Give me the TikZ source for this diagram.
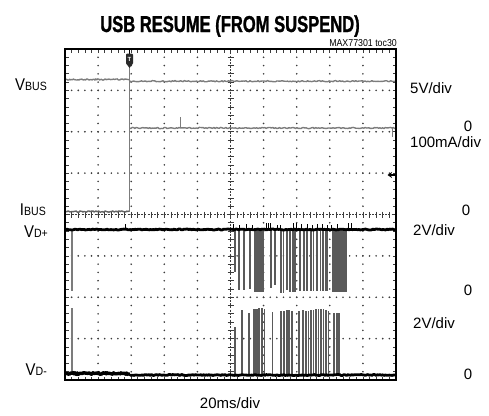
\documentclass[tikz,border=0pt]{standalone}
\usepackage{fontspec}
\setmainfont{Liberation Sans}
\newfontfamily\lblfont[FakeStretch=0.88]{Liberation Sans}
\newfontfamily\ttlfont[FakeStretch=0.72,BoldFeatures={FakeBold=1.2}]{Liberation Sans}
\usetikzlibrary{arrows.meta}
\definecolor{trgray}{HTML}{7C7C7C}
\definecolor{pulsegray}{HTML}{5A5A5A}
\definecolor{dotgray}{HTML}{3C3C3C}
\newcommand\mainsz{\fontsize{17}{18}\selectfont}
\newcommand\subsz{\fontsize{12}{13}\selectfont}
\newcommand\rsz{\fontsize{15}{16}\selectfont}
\begin{document}
\begin{tikzpicture}[x=1pt,y=-1pt,
  griddot/.style={fill=dotgray},
  tickln/.style={dotgray,line width=0.7pt},
  trace/.style={trgray,line width=1.4pt,line join=round},
  blk/.style={black,line width=2.8pt,line join=round},
  pulse/.style={pulsegray},
  lbl/.style={inner sep=0pt,font=\lblfont},
  rlbl/.style={inner sep=0pt,font=\rsz}]
\useasboundingbox (0,0) rectangle (489,415);
\pgfmathsetseed{7}
% grid dots on rows
\foreach \i in {1,2,3,5,6,7}{
  \foreach \k in {1,...,49}{
    \fill[griddot] ({65+6.62*\k},{49+41.375*\i}) circle (0.9pt);
  }
}
% grid dots on columns
\foreach \j in {1,2,3,4,6,7,8,9}{
  \foreach \m in {1,...,39}{
    \fill[griddot] ({65+33.1*\j},{49+8.275*\m}) circle (0.9pt);
  }
}
% centre axes with ticks
\draw[tickln,dash pattern=on 2pt off 1.3pt] (65,214.5) -- (396,214.5);
\draw[tickln,dash pattern=on 2pt off 1.3pt] (230.5,49) -- (230.5,380);
\foreach \k in {1,...,49}{
  \draw[tickln] ({65+6.62*\k},211.5) -- ++(0,6);
  \draw[tickln] ({65+6.62*\k},49) -- ++(0,3.5);
  \draw[tickln] ({65+6.62*\k},380) -- ++(0,-3.5);
}
\foreach \m in {1,...,39}{
  \draw[tickln] (227.5,{49+8.275*\m}) -- ++(6,0);
  \draw[tickln] (65,{49+8.275*\m}) -- ++(3.5,0);
  \draw[tickln] (396,{49+8.275*\m}) -- ++(-3.5,0);
}
% VBUS trace
\draw[trace] plot[domain=65:129.5,samples=70] (\x,{79.5+0.6*rand});
\draw[trace] plot[domain=129.5:396,samples=200] (\x,{81.2+0.6*rand});
% IBUS trace
\draw[trace,trgray!80!black] plot[domain=65:129.5,samples=70] (\x,{211.5+0.7*rand});
\draw[trace] (129.5,62) -- (129.5,211.5);
\draw[trace] plot[domain=129.5:396,samples=200] (\x,{128+0.6*rand});
\draw[trace,line width=1pt] (180,128) -- (180,117);
\draw[trace,line width=1pt] (392,128) -- (392,137);
% VD+ and VD- markers at left
\draw[trace,line width=1.3pt] (72,229.5) -- (72,291);
\draw[trace,line width=1.3pt] (72,308) -- (72,374);
% VD+ pulses (downward)
\foreach \px/\pw/\pb in {235/1.5/272,238.5/2/290,244/2/290,250/2.2/289,255/2.2/292,257.5/2.2/292,260/2.4/292,262.5/2.4/292,270.5/2/288,275/1.8/285,281/2.2/293,283.5/1.8/293,286.5/2/290,290/2/292,292.5/2/292,295/1.8/292,299.5/2/291,304/2/291,307/1.8/291,311/2/291,313.5/1.6/291,316.5/2/291,320.5/1.8/291,323/1.8/291,326.5/2.2/291,333/2/292,335.5/2.2/292,338.5/2.2/292,341/2.4/292,343.5/2.4/292,346/2/292}{
  \draw[pulse,line width=\pw pt] (\px,229.5) -- (\px,\pb);
}
% small spikes above VD+
\foreach \px/\pt in {233/224,239/225,246/224,252/225,266/223,268/223,270/223,277/225,280/225,293/223,296/223,301/224,307/224,312/225,317/224,322/224,327/225,331/225,337/224,348/223,351/223}{
  \draw[black,line width=1pt] (\px,229.5) -- (\px,\pt);
}
\draw[black,line width=1pt] (125,229) -- (125,223.5);
% VD- pulses (upward)
\foreach \px/\pw/\pt in {235/1.8/327,242/2/310,248.5/2/313,254/2.2/309,256.5/2.2/309,259/2.4/308,262/2.4/308,264.5/1.8/309,272.5/1.8/312,281/2/311,284/1.8/311,286.5/2/310,289/2/310,292/1.8/311,298.5/2/311,303/2/310,306/1.8/311,308.5/1.8/311,311/2/310,313.5/1.8/310,316/2/309,318.5/1.8/309,321/2/309,323.5/1.8/309,326/2/310,328.5/1.8/311,334/2/313,336.5/2/313,339/2/313}{
  \draw[pulse,line width=\pw pt] (\px,375) -- (\px,\pt);
}
% VD+ baseline
\draw[blk] plot[domain=65:396,samples=260] (\x,{229.5+0.5*rand});
% VD- baseline
\draw[blk,line width=3.4pt] plot[domain=65:130,samples=80] (\x,{373.5+0.9*rand});
\draw[blk] plot[domain=130:396,samples=200] (\x,{375+0.5*rand});
% frame
\draw[black,line width=2.5pt] (65,49) rectangle (396,380);
% trigger marker
\draw[black,line width=1pt] (129.5,49) -- (129.5,54);
\fill[dotgray!70!black] (126.5,64) -- (132.5,64) -- (129.5,68) -- cycle;
\node[fill=dotgray!70!black,rounded corners=1.2pt,minimum width=7pt,minimum height=11pt,inner sep=0pt,text=white,font=\fontsize{6}{6}\selectfont\bfseries] (trig) at (129.5,59) {T};
% ground marker
\coordinate (gnd) at (396,175);
\coordinate (gndtip) at (387.5,175);
\draw[black,line width=1.1pt,-{Stealth[length=4.5pt,width=6pt]}] (gnd) -- (gndtip);
% title and code
\node[inner sep=0pt,anchor=base,font=\ttlfont\bfseries\fontsize{23}{25}\selectfont] (title) at (230,32) {USB RESUME (FROM SUSPEND)};
\node[inner sep=0pt,anchor=base east,font=\lblfont\fontsize{10}{11}\selectfont] (code) at (397,46.5) {MAX77301 toc30};
% left labels
\node[lbl,anchor=base east] (vbus) at (47,90) {\mainsz V\subsz BUS};
\node[lbl,anchor=base east] (ibus) at (46,215) {\mainsz I\subsz BUS};
\node[lbl,anchor=base east] (vdp) at (48,237) {\mainsz V\subsz D+};
\node[lbl,anchor=base east] (vdm) at (47,375.5) {\mainsz V\subsz D-};
% right labels
\node[rlbl,anchor=base west] (s1) at (410,93) {5V/div};
\node[rlbl,anchor=base] (z1) at (468,131) {0};
\node[rlbl,anchor=base west] (s2) at (410,147) {100mA/div};
\node[rlbl,anchor=base] (z2) at (466,215) {0};
\node[rlbl,anchor=base west] (s3) at (413,235) {2V/div};
\node[rlbl,anchor=base] (z3) at (468,295) {0};
\node[rlbl,anchor=base west] (s4) at (413,328) {2V/div};
\node[rlbl,anchor=base] (z4) at (468,379) {0};
\node[rlbl,anchor=base] (tdiv) at (230,408) {20ms/div};
\end{tikzpicture}
\end{document}
